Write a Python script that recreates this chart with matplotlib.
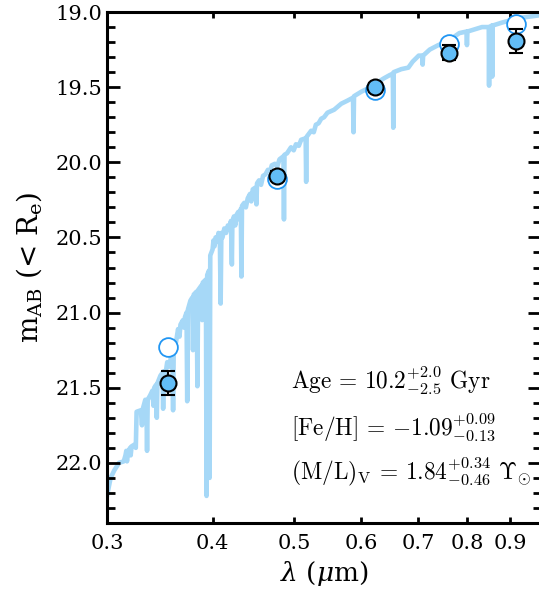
import matplotlib
matplotlib.use('Agg')
import matplotlib.pyplot as plt
from matplotlib.ticker import MultipleLocator, FixedLocator, NullLocator, FormatStrFormatter

plt.rcParams['font.family'] = 'DejaVu Serif'
plt.rcParams['mathtext.fontset'] = 'dejavuserif'

# model spectrum (wavelength in micron, AB mag)
spec_wave = [0.3000, 0.3030, 0.3060, 0.3100, 0.3140, 0.3155, 0.3162, 0.3168,
             0.3175, 0.3195, 0.3200, 0.3208, 0.3230, 0.3245, 0.3252, 0.3290,
             0.3300, 0.3308, 0.3330, 0.3340, 0.3346, 0.3352, 0.3375, 0.3395,
             0.3405, 0.3412, 0.3430, 0.3436, 0.3442, 0.3470, 0.3490, 0.3496,
             0.3502, 0.3520, 0.3535, 0.3555, 0.3570, 0.3585, 0.3592, 0.3598,
             0.3620, 0.3641, 0.3655, 0.3665, 0.3690, 0.3700, 0.3710, 0.3726,
             0.3733, 0.3740, 0.3766, 0.3785, 0.3792, 0.3800, 0.3830, 0.3838,
             0.3846, 0.3880, 0.3888, 0.3895, 0.3928, 0.3935, 0.3942, 0.3962,
             0.3968, 0.3975, 0.4000, 0.4010, 0.4020, 0.4033, 0.4050, 0.4065,
             0.4080, 0.4089, 0.4097, 0.4110, 0.4130, 0.4150, 0.4170, 0.4190,
             0.4205, 0.4216, 0.4222, 0.4240, 0.4255, 0.4270, 0.4290, 0.4305,
             0.4320, 0.4327, 0.4334, 0.4360, 0.4380, 0.4402, 0.4430, 0.4445,
             0.4463, 0.4490, 0.4508, 0.4515, 0.4540, 0.4565, 0.4590, 0.4620,
             0.4651, 0.4680, 0.4700, 0.4740, 0.4770, 0.4800, 0.4852, 0.4859,
             0.4866, 0.4900, 0.4953, 0.4990, 0.5020, 0.5060, 0.5092, 0.5155,
             0.5162, 0.5169, 0.5200, 0.5233, 0.5270, 0.5300, 0.5340, 0.5378,
             0.5420, 0.5470, 0.5571, 0.5680, 0.5775, 0.5865, 0.5873, 0.5881,
             0.6000, 0.6100, 0.6218, 0.6300, 0.6385, 0.6480, 0.6537, 0.6545,
             0.6553, 0.6690, 0.6819, 0.6900, 0.7015, 0.7080, 0.7090, 0.7100,
             0.7228, 0.7400, 0.7577, 0.7700, 0.7837, 0.7990, 0.8000, 0.8010,
             0.8336, 0.8490, 0.8497, 0.8505, 0.8560, 0.8570, 0.8580, 0.8804,
             0.9219, 0.9800]
spec_mag = [22.22, 22.10, 22.05, 22.00, 21.99, 21.95, 21.92, 21.99,
            21.93, 21.90, 21.95, 21.89, 21.88, 21.90, 21.66, 21.65,
            21.75, 21.64, 21.58, 21.60, 21.92, 21.58, 21.55, 21.52,
            21.62, 21.50, 21.48, 21.70, 21.47, 21.42, 21.40, 21.64,
            21.39, 21.40, 21.33, 21.36, 21.30, 21.26, 21.65, 21.26,
            21.20, 21.11, 21.16, 21.08, 21.05, 21.10, 21.03, 21.00,
            21.59, 20.98, 20.92, 20.90, 21.25, 20.88, 20.86, 21.49,
            20.85, 20.82, 21.05, 20.80, 20.78, 22.22, 20.75, 20.72,
            22.10, 20.62, 20.58, 20.52, 20.56, 20.50, 20.53, 20.47,
            20.50, 20.94, 20.47, 20.50, 20.44, 20.47, 20.42, 20.45,
            20.39, 20.68, 20.40, 20.36, 20.42, 20.35, 20.33, 20.38,
            20.31, 20.76, 20.29, 20.27, 20.30, 20.24, 20.21, 20.26,
            20.18, 20.17, 20.28, 20.14, 20.12, 20.15, 20.09, 20.08,
            20.05, 20.06, 20.02, 20.01, 20.03, 19.98, 19.96, 20.38,
            19.95, 19.94, 19.90, 19.92, 19.88, 19.89, 19.85, 19.84,
            20.13, 19.83, 19.81, 19.79, 19.80, 19.75, 19.74, 19.71,
            19.70, 19.67, 19.65, 19.61, 19.59, 19.57, 19.80, 19.56,
            19.53, 19.51, 19.48, 19.46, 19.44, 19.42, 19.41, 19.77,
            19.40, 19.38, 19.37, 19.33, 19.29, 19.29, 19.35, 19.29,
            19.25, 19.22, 19.20, 19.17, 19.14, 19.13, 19.22, 19.13,
            19.10, 19.10, 19.49, 19.10, 19.09, 19.43, 19.09, 19.07,
            19.04, 19.02]

# photometry (ugriz)
phot_wave = [0.3543, 0.4770, 0.6231, 0.7625, 0.9134]
phot_mag = [21.47, 20.09, 19.50, 19.27, 19.19]
phot_err = [0.08, 0.03, 0.03, 0.05, 0.08]
model_mag = [21.23, 20.11, 19.52, 19.21, 19.08]

xticks = [0.3, 0.4, 0.5, 0.6, 0.7, 0.8, 0.9]

fig = plt.figure(figsize=(5.39, 5.90), dpi=100)
ax = fig.add_axes([0.1985, 0.1136, 0.806, 0.866])

ax.plot(spec_wave, spec_mag, color='#a6d8f7', lw=3.3, zorder=1)
ax.plot(phot_wave, model_mag, 'o', ms=13.5, mfc='white', mec='#2196f3',
        mew=1.3, zorder=2)
ax.errorbar(phot_wave, phot_mag, yerr=phot_err, fmt='o', ms=11.5,
            mfc='#62bdf6', mec='black', mew=1.5, ecolor='black',
            elinewidth=1.5, capsize=5, capthick=1.5, zorder=3)

ax.set_xscale('log')
ax.set_xlim(0.3, 0.98)
ax.set_ylim(22.4, 19.0)

ax.xaxis.set_major_locator(FixedLocator(xticks))
ax.xaxis.set_major_formatter(FormatStrFormatter('%.1f'))
ax.xaxis.set_minor_locator(NullLocator())
ax.yaxis.set_major_locator(MultipleLocator(0.5))
ax.yaxis.set_minor_locator(MultipleLocator(0.1))
ax.yaxis.set_major_formatter(FormatStrFormatter('%.1f'))

ax.tick_params(axis='both', which='both', direction='in', top=True, right=True,
               labelsize=15, width=2)
ax.tick_params(axis='y', which='major', length=9.5)
ax.tick_params(axis='y', which='minor', length=5.5)
ax.tick_params(axis='x', which='major', length=4.5, pad=8)
for s in ax.spines.values():
    s.set_linewidth(2.2)

ax.set_xlabel(r'$\lambda$ ($\mu$m)', fontsize=19, labelpad=4)
ax.set_ylabel(r'm$_{\rm AB}$ (< R$_{\rm e}$)', fontsize=20, labelpad=8)

# fit results, Computer Modern like the original
txt = dict(transform=ax.transAxes, fontsize=16.8, va='center',
           family='cmr10', math_fontfamily='cm')
ax.text(0.424, 0.28, r'Age = $10.2^{+2.0}_{-2.5}$ Gyr', **txt)
ax.text(0.424, 0.188, r'[Fe/H] = $-1.09^{+0.09}_{-0.13}$', **txt)
ax.text(0.424, 0.10, r'(M/L)$_{\rm V}$ = $1.84^{+0.34}_{-0.46}$ $\Upsilon_{\odot}$', **txt)

fig.savefig('out.png', dpi=100)
